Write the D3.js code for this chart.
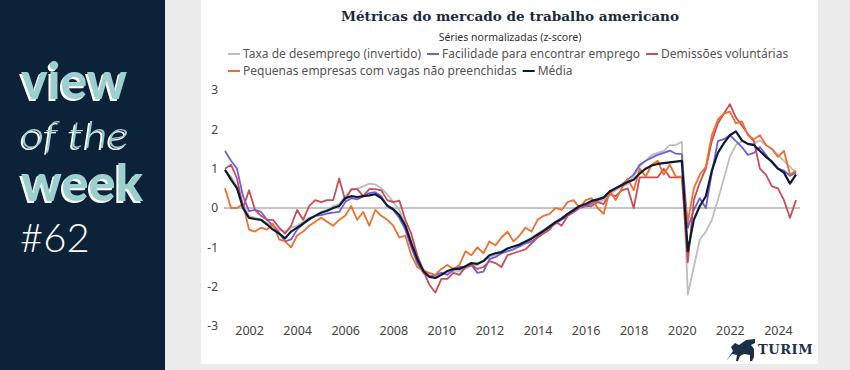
<!DOCTYPE html>
<html>
<head>
<meta charset="utf-8">
<script src="https://cdn.jsdelivr.net/npm/d3@7"></script>
<style>
  body { margin: 0; background: #ebebeb; }
  svg { display: block; }
</style>
</head>
<body>
<div id="chart"></div>
<script>
// quarterly values, first point = 2001 Q1
const startYear = 2001;
const seriesNames = [
  'Taxa de desemprego (invertido)',
  'Facilidade para encontrar emprego',
  'Demissões voluntárias',
  'Pequenas empresas com vagas não preenchidas',
  'Média'
];
const seriesColors = ['#bdbdbd', '#6f5fe0', '#cc4b55', '#ef6f2e', '#0c1c30'];

const desemprego = [
  0.95, 0.8, 0.55, 0.1,  -0.2, -0.25, -0.3, -0.38,  -0.45, -0.55, -0.6, -0.5,
  -0.45, -0.35, -0.25, -0.2,  -0.1, -0.05, 0.05, 0.1,  0.3, 0.45, 0.5, 0.55,
  0.62, 0.6, 0.5, 0.35,  0.15, -0.05, -0.4, -0.85,  -1.25, -1.55, -1.7, -1.75,
  -1.7, -1.65, -1.6, -1.6,  -1.55, -1.45, -1.45, -1.35,  -1.25, -1.2, -1.15, -1.1,
  -1.05, -0.95, -0.85, -0.75,  -0.65, -0.55, -0.45, -0.35,  -0.25, -0.15, -0.1, 0.0,
  0.05, 0.1, 0.15, 0.2,  0.35, 0.45, 0.55, 0.6,  0.8, 1.05, 1.2, 1.35,
  1.4, 1.45, 1.6, 1.6,  1.68, -2.2, -1.5, -0.8,  -0.6, -0.3, 0.2, 0.75,
  1.3, 1.6, 1.7, 1.62,  1.65, 1.72, 1.6, 1.5,  1.35, 1.2, 1.05, 0.9
];
const facilidade = [
  1.45, 1.2, 1.0, 0.3,  -0.08, -0.05, -0.1, -0.3,  -0.45, -0.62, -0.85, -0.8,
  -0.55, -0.4, -0.3, -0.2,  -0.18, -0.14, -0.12, -0.1,  0.15, 0.25, 0.22, 0.3,
  0.38, 0.4, 0.3, 0.05,  -0.05, -0.25, -0.55, -1.0,  -1.4, -1.65, -1.75, -1.7,
  -1.65, -1.7, -1.58, -1.5,  -1.5, -1.45, -1.65, -1.62,  -1.3, -1.25, -1.15, -1.1,
  -1.05, -0.98, -0.9, -0.85,  -0.75, -0.6, -0.5, -0.4,  -0.3, -0.2, -0.1, 0.0,
  0.05, 0.12, 0.2, 0.25,  0.4, 0.5, 0.6, 0.72,  0.85, 1.1, 1.2, 1.28,
  1.35, 1.4, 1.46, 1.38,  1.37, -0.5, -0.05, 0.25,  0.0, 0.9, 1.7, 1.75,
  1.85, 1.7, 1.55, 1.35,  1.4, 1.55, 1.35, 1.15,  1.0, 0.95, 0.82, 0.9
];
const demissoes = [
  1.0, 1.1, 0.75, 0.0,  0.45, -0.05, -0.2, -0.3,  -0.3, -0.5, -0.65, -0.45,
  -0.05, -0.3, 0.05, 0.2,  0.15, 0.2, 0.2, 0.75,  0.2, 0.48, 0.48, 0.3,
  0.48, 0.48, 0.45, 0.2,  0.15, 0.19, -0.3, -0.66,  -1.2, -1.6, -1.95, -2.15,
  -1.8, -1.8, -1.65, -1.7,  -1.5, -1.45, -1.55, -1.5,  -1.35, -1.4, -1.5, -1.2,
  -1.15, -1.1, -1.05, -0.9,  -0.75, -0.65, -0.55, -0.35,  -0.45, -0.2, -0.1, 0.05,
  0.05, 0.05, 0.15, 0.1,  0.35, 0.3, 0.45, 0.5,  0.0, 0.78, 0.78, 0.78,
  0.78, 1.0, 0.78, 0.78,  0.78, -1.38, 0.2, 0.65,  1.0, 1.7, 2.15, 2.4,
  2.64, 2.3, 2.1, 1.88,  1.7, 1.0, 0.85, 0.55,  0.5, 0.2, -0.25, 0.2
];
const pequenas = [
  0.5, 0.0, 0.0, 0.1,  -0.55, -0.6, -0.5, -0.55,  -0.4, -0.8, -0.85, -1.0,
  -0.7, -0.6, -0.45, -0.35,  -0.25, -0.35, -0.45, -0.3,  -0.2, 0.05, -0.3, -0.1,
  -0.45, -0.05, -0.2, -0.3,  -0.45, -0.75, -0.7, -1.2,  -1.5, -1.6, -1.65, -1.7,
  -1.55, -1.45, -1.55, -1.45,  -1.1, -1.2, -1.0, -1.15,  -0.85, -0.95, -0.75, -0.6,
  -0.85, -0.7, -0.5, -0.6,  -0.3, -0.2, -0.15, 0.0,  -0.05, 0.15, 0.2, 0.0,
  0.2, 0.25, 0.0, -0.15,  0.44, 0.2, 0.5, 0.75,  0.45, 1.0, 0.8, 1.1,
  1.2, 0.85, 1.1, 0.8,  0.8, -0.35, 0.5, 0.85,  1.05, 1.85, 2.25, 2.4,
  2.45, 2.15, 2.2, 1.85,  1.75, 1.85, 1.6, 1.5,  1.3, 1.45, 0.85, 0.95
];
const media = [
  0.97, 0.72, 0.5, 0.0,  -0.25, -0.28, -0.3, -0.42,  -0.55, -0.65, -0.77, -0.6,
  -0.5, -0.4, -0.28, -0.2,  -0.12, -0.07, 0.0, 0.05,  0.25, 0.3, 0.28, 0.3,
  0.32, 0.35, 0.25, 0.06,  -0.03, -0.18, -0.45, -0.9,  -1.3, -1.6, -1.75, -1.78,
  -1.7, -1.6, -1.55, -1.55,  -1.48, -1.4, -1.42, -1.35,  -1.2, -1.15, -1.12, -1.03,
  -0.98, -0.93, -0.85, -0.78,  -0.68, -0.58, -0.47, -0.36,  -0.27, -0.15, -0.05, 0.05,
  0.1, 0.18, 0.22, 0.27,  0.42, 0.5, 0.58, 0.66,  0.72, 0.88, 1.0, 1.08,
  1.12, 1.14, 1.16, 1.18,  1.2, -1.1, -0.3, 0.05,  0.3, 0.95, 1.4, 1.65,
  1.85, 1.95, 1.72, 1.63,  1.6, 1.45, 1.3, 1.18,  1.0, 0.9, 0.62, 0.85
];
const xTicks = [2002, 2004, 2006, 2008, 2010, 2012, 2014, 2016, 2018, 2020, 2022, 2024];
const yTicks = [3, 2, 1, 0, -1, -2, -3];

const width = 850, height = 370;
const svg = d3.select('#chart').append('svg')
  .attr('width', width)
  .attr('height', height);

// white offset shadow for the side panel words
const shadow = svg.append('defs').append('filter').attr('id', 'wshadow')
  .attr('x', '-10%').attr('y', '-20%').attr('width', '130%').attr('height', '150%');
shadow.append('feDropShadow').attr('dx', -2).attr('dy', 2).attr('stdDeviation', 0)
  .attr('flood-color', '#ffffff').attr('flood-opacity', 1);

// backgrounds
svg.append('rect').attr('width', width).attr('height', height).attr('fill', '#ebebeb');
svg.append('rect').attr('x', 0).attr('y', 0).attr('width', 165).attr('height', height).attr('fill', '#0b2239');
svg.append('rect').attr('x', 201).attr('y', 0).attr('width', 617).attr('height', 364).attr('fill', '#ffffff');

// side panel text
const side = svg.append('g');
function sideWord(txt, y, size, style, weight, len) {
  side.append('text').attr('x', 21).attr('y', y)
    .attr('font-family', 'Lato, sans-serif').attr('font-size', size)
    .attr('font-style', style).attr('font-weight', weight)
    .attr('textLength', len).attr('lengthAdjust', 'spacingAndGlyphs')
    .attr('filter', 'url(#wshadow)')
    .attr('fill', '#9ccfd0').text(txt);
}
sideWord('view', 99, 52, 'normal', 900, 106);
sideWord('of the', 148, 38, 'italic', 300, 108);
sideWord('week', 201, 52, 'normal', 900, 122);
side.append('text').attr('x', 20).attr('y', 252)
  .attr('font-family', 'Lato, sans-serif').attr('font-size', 40).attr('font-weight', 300)
  .attr('fill', '#ffffff').text('#62');

// title
svg.append('text').attr('x', 510).attr('y', 21).attr('text-anchor', 'middle')
  .attr('font-family', '"DejaVu Serif", serif').attr('font-weight', 'bold').attr('font-size', 13.6)
  .attr('fill', '#1a2a40').text('Métricas do mercado de trabalho americano');
svg.append('text').attr('x', 510).attr('y', 41).attr('text-anchor', 'middle')
  .attr('font-family', '"Noto Sans", sans-serif').attr('font-size', 10.5)
  .attr('fill', '#333').text('Séries normalizadas (z-score)');

// legend
const legendRows = [[0, 1, 2], [3, 4]];
legendRows.forEach((row, r) => {
  let lx = 228;
  const ly = 58 + r * 17;
  row.forEach(k => {
    svg.append('line').attr('x1', lx).attr('x2', lx + 12).attr('y1', ly - 4).attr('y2', ly - 4)
      .attr('stroke', seriesColors[k]).attr('stroke-width', 2);
    const t = svg.append('text').attr('x', lx + 15).attr('y', ly)
      .attr('font-family', '"Noto Sans", sans-serif').attr('font-size', 12)
      .attr('fill', '#555').text(seriesNames[k]);
    lx += 15 + t.node().getComputedTextLength() + 6;
  });
});

// scales
const x = d3.scaleLinear().domain([2001, 2025]).range([225, 802]);
const y = d3.scaleLinear().domain([-3, 3]).range([326, 90]);

const yAxis = svg.append('g').attr('transform', 'translate(222,0)')
  .call(d3.axisLeft(y).tickValues(yTicks).tickSize(0).tickPadding(4).tickFormat(d => String(d)));
yAxis.select('.domain').remove();
yAxis.selectAll('text').attr('font-family', '"Noto Sans", sans-serif').attr('font-size', 12).attr('fill', '#444');

const xAxis = svg.append('g').attr('transform', 'translate(0,324)')
  .call(d3.axisBottom(x).tickValues(xTicks).tickSize(0).tickPadding(2).tickFormat(d => String(d)));
xAxis.select('.domain').remove();
xAxis.selectAll('text').attr('font-family', '"Noto Sans", sans-serif').attr('font-size', 12.5).attr('fill', '#444');

// zero line
svg.append('line').attr('x1', 224).attr('x2', 800).attr('y1', y(0)).attr('y2', y(0))
  .attr('stroke', '#8a8a8a').attr('stroke-width', 1);

// series
const allSeries = [desemprego, facilidade, demissoes, pequenas, media];
const line = d3.line()
  .x((d, i) => x(startYear + i * 0.25))
  .y(d => y(d));

allSeries.forEach((vals, k) => {
  svg.append('path')
    .datum(vals)
    .attr('fill', 'none')
    .attr('stroke', seriesColors[k])
    .attr('stroke-width', k === 4 ? 2.2 : 1.8)
    .attr('stroke-linejoin', 'round')
    .attr('d', line);
});

// logo
const logo = svg.append('g').attr('transform', 'translate(726,337)');
logo.append('path')
  .attr('d', 'M0,24 L7,14 L5,10 L9,6 L13,8 L20,3 L29,2 L29,6 L25,8 L28,12 L28,20 L26,24 L24,24 L24,18 L18,17 L14,19 L12,24 L10,24 L11,18 L6,17 Z')
  .attr('fill', '#1a3048');
logo.append('text').attr('x', 32).attr('y', 17)
  .attr('font-family', '"DejaVu Serif", serif').attr('font-weight', 'bold').attr('font-size', 13)
  .attr('letter-spacing', 0.6).attr('fill', '#1a3048').text('TURIM');
</script>
</body>
</html>
